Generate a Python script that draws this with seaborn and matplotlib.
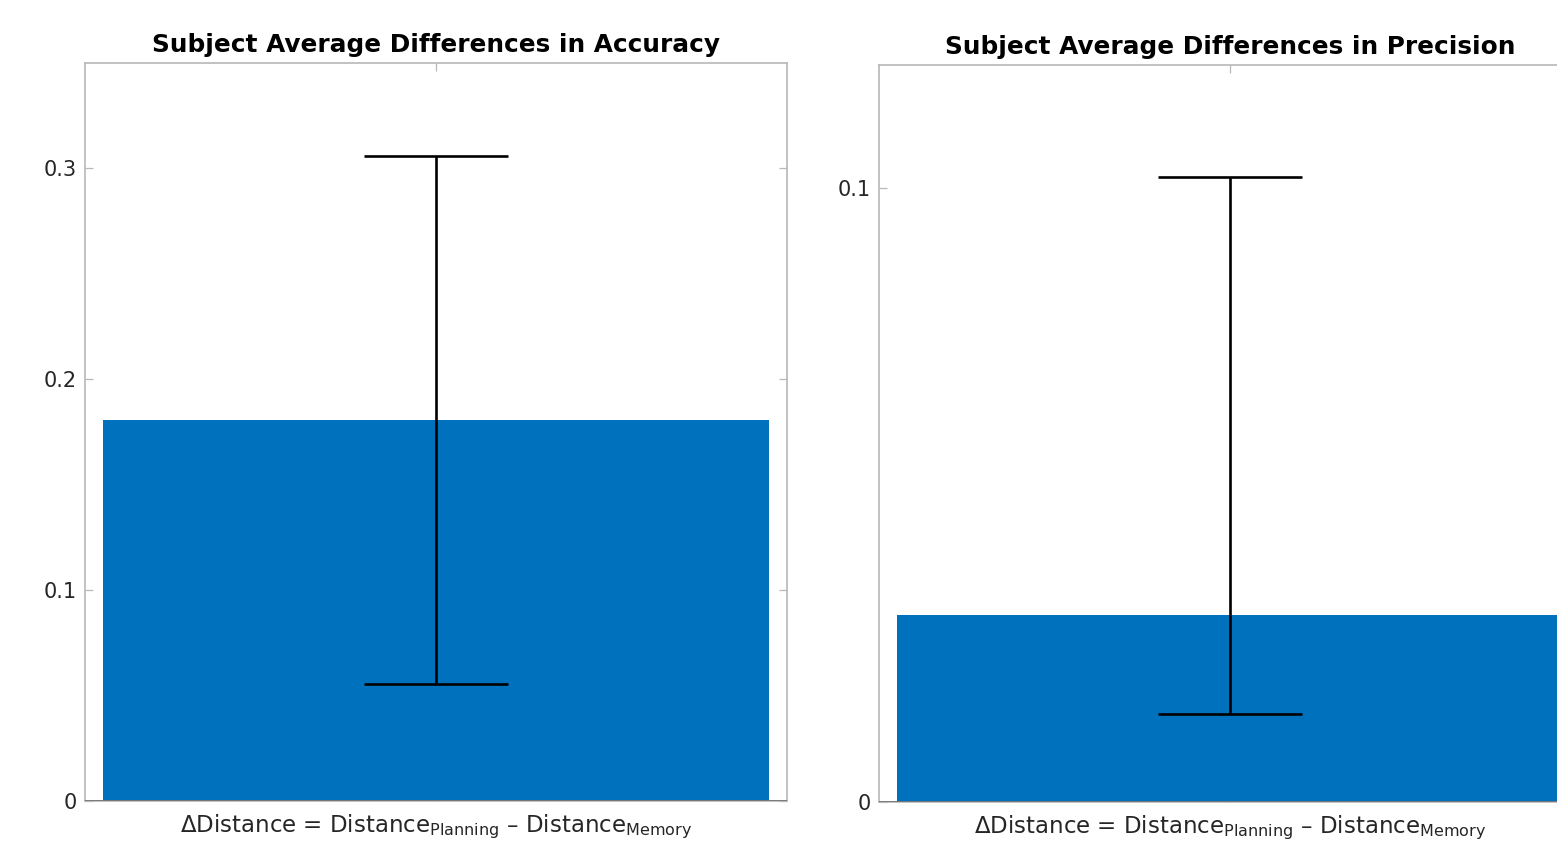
import matplotlib
matplotlib.use("Agg")
import matplotlib.pyplot as plt
import seaborn as sns
import pandas as pd
import numpy as np

sns.set_theme(style="white")
plt.rcParams["font.family"] = ["DejaVu Sans"]
plt.rcParams["mathtext.fontset"] = "dejavusans"

# Data
category = [r"$\Delta$Distance = Distance$_{\mathrm{Planning}}$ – Distance$_{\mathrm{Memory}}$"]
titles = ["Subject Average Differences in Accuracy",
          "Subject Average Differences in Precision"]
means = [0.1806, 0.0305]
ci_low = [0.0555, 0.0143]
ci_high = [0.3057, 0.1018]
ylims = [0.35, 0.12]
yticks = [[0, 0.1, 0.2, 0.3], [0, 0.1]]
ytick_labels = [["0", "0.1", "0.2", "0.3"], ["0", "0.1"]]

bar_color = "#0072BD"
spine_color = "#b8b8b8"
text_color = "#262626"

W, H = 1557, 846
fig = plt.figure(figsize=(W / 100, H / 100), dpi=100)
positions = [
    [85 / W, (H - 801) / H, 702 / W, 738 / H],
    [879 / W, (H - 802) / H, 702 / W, 737 / H],
]

for i in range(2):
    ax = fig.add_axes(positions[i])
    df = pd.DataFrame({"condition": category, "value": [means[i]]})
    sns.barplot(data=df, x="condition", y="value", color=bar_color,
                saturation=1, width=0.95, errorbar=None, ax=ax,
                edgecolor="none")
    yerr = np.array([[means[i] - ci_low[i]], [ci_high[i] - means[i]]])
    ax.errorbar([0], [means[i]], yerr=yerr, fmt="none", ecolor="black",
                elinewidth=1.9, capsize=52, capthick=1.9)
    ax.axhline(0, color="#6e6e6e", lw=1.2, zorder=3)
    ax.set_xlim(-0.5, 0.5)
    ax.set_ylim(0, ylims[i])
    ax.set_yticks(yticks[i])
    ax.set_yticklabels(ytick_labels[i])
    ax.set_xlabel("")
    ax.set_ylabel("")
    ax.set_title(titles[i], fontsize=17.8, fontweight="bold", color="black", pad=8)
    for s in ax.spines.values():
        s.set_visible(True)
        s.set_color(spine_color)
        s.set_linewidth(1.2)
    ax.tick_params(axis="both", direction="in", length=6, width=0.9,
                   color=spine_color, labelcolor=text_color, labelsize=15,
                   top=True, right=True, left=True, bottom=True, pad=6)
    ax.tick_params(axis="x", pad=8, labelsize=16.5)

fig.savefig("out.png", dpi=100, facecolor="white")
